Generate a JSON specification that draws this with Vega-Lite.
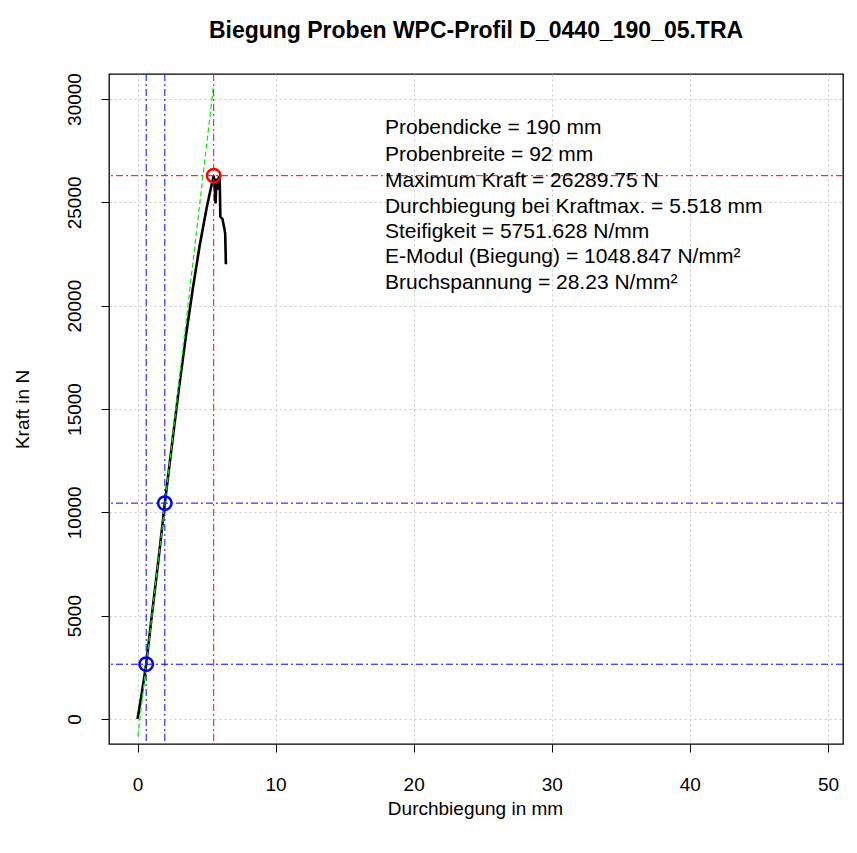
{
  "$schema": "https://vega.github.io/schema/vega-lite/v6.json",
  "width": 734,
  "height": 670,
  "autosize": {"type": "none"},
  "padding": {"left": 109, "top": 74, "right": 14, "bottom": 109},
  "background": "white",
  "title": {
    "text": "Biegung Proben WPC-Profil D_0440_190_05.TRA",
    "font": "Liberation Sans",
    "fontSize": 23,
    "fontWeight": "bold",
    "color": "black",
    "anchor": "middle",
    "frame": "group",
    "baseline": "alphabetic",
    "offset": 12
  },
  "config": {
    "view": {"stroke": "black", "strokeWidth": 1.3},
    "axis": {
      "labelFont": "Liberation Sans",
      "titleFont": "Liberation Sans",
      "labelFontSize": 19,
      "titleFontSize": 19,
      "titleFontWeight": "normal",
      "labelColor": "black",
      "titleColor": "black",
      "domain": false,
      "tickColor": "black",
      "tickSize": 8,
      "tickWidth": 1,
      "grid": true,
      "gridColor": "#c8c8c8",
      "gridDash": [2, 3],
      "gridWidth": 1
    }
  },
  "datasets": {
    "curve": [
      {"d": 0, "f": 0},
      {"d": 0.3, "f": 1200},
      {"d": 0.63, "f": 2650},
      {"d": 1.0, "f": 4800},
      {"d": 1.5, "f": 7600},
      {"d": 1.98, "f": 10445},
      {"d": 2.5, "f": 13300},
      {"d": 3.0, "f": 16000},
      {"d": 3.5, "f": 18500},
      {"d": 4.0, "f": 20800},
      {"d": 4.5, "f": 22900},
      {"d": 5.0, "f": 24700},
      {"d": 5.3, "f": 25650},
      {"d": 5.52, "f": 26290},
      {"d": 5.6, "f": 25600},
      {"d": 5.65, "f": 24950},
      {"d": 5.72, "f": 26150},
      {"d": 5.8, "f": 25600},
      {"d": 5.88, "f": 26200},
      {"d": 5.95, "f": 26250},
      {"d": 6.0, "f": 24300},
      {"d": 6.15, "f": 24200},
      {"d": 6.3, "f": 23700},
      {"d": 6.35, "f": 23500},
      {"d": 6.4, "f": 22000}
    ],
    "fit": [
      {"d": 0.026, "f": -850},
      {"d": 5.48, "f": 30517}
    ],
    "vlines": [
      {"d": 0.63, "c": "blue"},
      {"d": 1.98, "c": "blue"},
      {"d": 5.518, "c": "red"}
    ],
    "hlines": [
      {"f": 2650, "c": "blue"},
      {"f": 10445, "c": "blue"},
      {"f": 26289.75, "c": "red"}
    ],
    "points": [
      {"d": 0.63, "f": 2650, "c": "blue"},
      {"d": 1.98, "f": 10445, "c": "blue"},
      {"d": 5.518, "f": 26289.75, "c": "red"}
    ],
    "labels": [
      {"t": "Probendicke = 190 mm", "d": 17.92, "f": 28620},
      {"t": "Probenbreite = 92 mm", "d": 17.92, "f": 27310},
      {"t": "Maximum Kraft = 26289.75 N", "d": 17.92, "f": 26053},
      {"t": "Durchbiegung bei Kraftmax. = 5.518 mm", "d": 17.92, "f": 24794},
      {"t": "Steifigkeit = 5751.628 N/mm", "d": 17.92, "f": 23584},
      {"t": "E-Modul (Biegung) = 1048.847 N/mm²", "d": 17.92, "f": 22373},
      {"t": "Bruchspannung = 28.23 N/mm²", "d": 17.92, "f": 21114}
    ]
  },
  "layer": [
    {
      "data": {"name": "curve"},
      "mark": {"type": "line", "color": "black", "strokeWidth": 2.6, "clip": true},
      "encoding": {
        "x": {
          "field": "d", "type": "quantitative",
          "scale": {"domain": [-2.064, 51.09], "nice": false, "zero": false},
          "axis": {
            "values": [0, 10, 20, 30, 40, 50],
            "format": "d",
            "labelPadding": 23,
            "labelBaseline": "top",
            "title": "Durchbiegung in mm",
            "titleX": 366,
            "titleY": 64,
            "titleBaseline": "middle",
            "titleAlign": "center"
          }
        },
        "y": {
          "field": "f", "type": "quantitative",
          "scale": {"domain": [-1210, 31210], "nice": false, "zero": false},
          "axis": {
            "values": [0, 5000, 10000, 15000, 20000, 25000, 30000],
            "format": "d",
            "labelAngle": -90,
            "labelAlign": "center",
            "labelBaseline": "bottom",
            "labelPadding": 17,
            "title": "Kraft in N",
            "titleAngle": -90,
            "titleX": -87,
            "titleY": 335,
            "titleBaseline": "middle",
            "titleAlign": "center"
          }
        },
        "order": {"value": 0}
      }
    },
    {
      "data": {"name": "fit"},
      "mark": {"type": "line", "color": "#00ee00", "strokeWidth": 1.2, "strokeDash": [5, 3], "clip": true},
      "encoding": {
        "x": {"field": "d", "type": "quantitative"},
        "y": {"field": "f", "type": "quantitative"}
      }
    },
    {
      "data": {"name": "vlines"},
      "mark": {"type": "rule", "strokeWidth": 1, "strokeDash": [7, 3, 2, 3]},
      "encoding": {
        "x": {"field": "d", "type": "quantitative"},
        "color": {"field": "c", "type": "nominal", "scale": {"domain": ["blue", "red"], "range": ["#0000ff", "#ff0000"]}, "legend": null}
      }
    },
    {
      "data": {"name": "hlines"},
      "mark": {"type": "rule", "strokeWidth": 1, "strokeDash": [7, 3, 2, 3]},
      "encoding": {
        "y": {"field": "f", "type": "quantitative"},
        "color": {"field": "c", "type": "nominal", "legend": null}
      }
    },
    {
      "data": {"name": "points"},
      "mark": {"type": "point", "shape": "circle", "filled": false, "size": 180, "strokeWidth": 2.5, "opacity": 1},
      "encoding": {
        "x": {"field": "d", "type": "quantitative"},
        "y": {"field": "f", "type": "quantitative"},
        "stroke": {"field": "c", "type": "nominal", "scale": {"domain": ["blue", "red"], "range": ["#0000ff", "#ff0000"]}, "legend": null}
      }
    },
    {
      "data": {"name": "labels"},
      "mark": {"type": "text", "align": "left", "baseline": "middle", "font": "Liberation Sans", "fontSize": 21, "color": "black"},
      "encoding": {
        "x": {"field": "d", "type": "quantitative"},
        "y": {"field": "f", "type": "quantitative"},
        "text": {"field": "t", "type": "nominal"}
      }
    }
  ]
}
